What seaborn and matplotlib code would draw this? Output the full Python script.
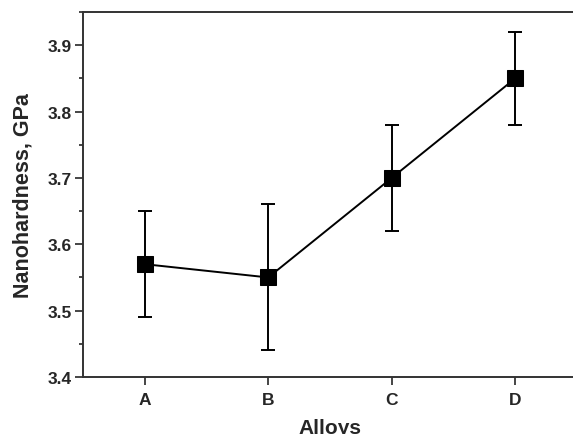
import numpy as np
import pandas as pd
import matplotlib
matplotlib.use("Agg")
import matplotlib.pyplot as plt
import seaborn as sns
from matplotlib.ticker import MultipleLocator

# Dados
ligas = ['A', 'B', 'C', 'D']
dureza = [3.57, 3.55, 3.70, 3.85]
erro_inf = [3.49, 3.44, 3.62, 3.78]
erro_sup = [3.65, 3.66, 3.78, 3.92]

sns.set_style('ticks')
plt.rcParams['font.family'] = ['Liberation Sans', 'DejaVu Sans']
plt.rcParams['font.weight'] = 'bold'

df = pd.DataFrame({'pos': np.arange(len(ligas)), 'liga': ligas, 'dureza': dureza})

fig = plt.figure(figsize=(5.73, 4.35), dpi=100)
ax = fig.add_axes([83 / 573, 57 / 435, 494 / 573, 365 / 435])

sns.lineplot(data=df, x='pos', y='dureza', ax=ax, color='black', lw=1.4,
             marker='s', markersize=11, markeredgecolor='black', zorder=3)
yerr = [np.array(dureza) - np.array(erro_inf), np.array(erro_sup) - np.array(dureza)]
ax.errorbar(df['pos'], dureza, yerr=yerr, fmt='none', ecolor='black',
            elinewidth=1.4, capsize=5, capthick=1.4, zorder=2)

ax.set_xlim(-0.5, 3.5)
ax.set_ylim(3.4, 3.95)
ax.set_xticks(df['pos'])
ax.set_xticklabels(ligas)
ax.yaxis.set_major_locator(MultipleLocator(0.1))
ax.yaxis.set_minor_locator(MultipleLocator(0.05))
ax.yaxis.set_major_formatter(matplotlib.ticker.FormatStrFormatter('%.1f'))
ax.tick_params(axis='both', which='major', length=6, width=1.2, labelsize=12.5,
               direction='out', pad=2)
ax.tick_params(axis='x', which='major', pad=5)
ax.tick_params(axis='y', which='minor', length=3, width=1.2)
for s in ax.spines.values():
    s.set_linewidth(1.4)
    s.set_color('#333333')

ax.set_xlabel('Alloys', fontsize=15, fontweight='bold', labelpad=8)
ax.set_ylabel('Nanohardness, GPa', fontsize=15.5, fontweight='bold', labelpad=10)

fig.savefig('out.png', dpi=100)
